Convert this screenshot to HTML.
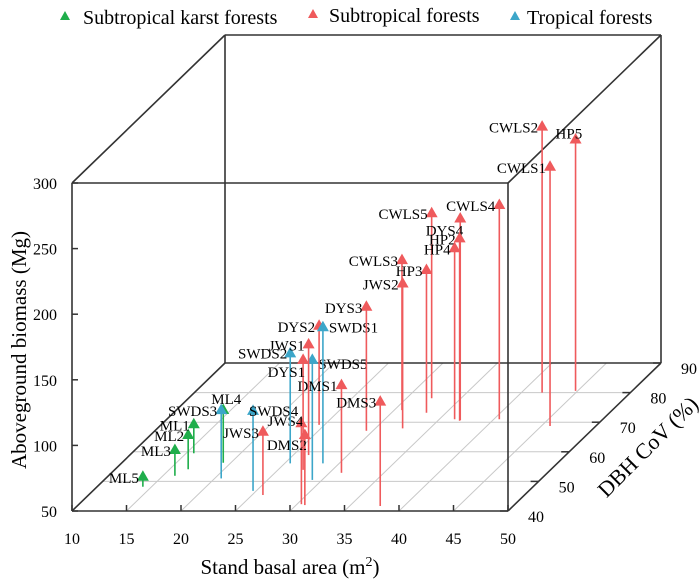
<!DOCTYPE html>
<html><head><meta charset="utf-8"><style>
html,body{margin:0;padding:0;background:#fff;}
svg{display:block;font-family:"Liberation Serif",serif;}
</style></head><body>
<svg id="chart" width="700" height="580" viewBox="0 0 700 580">
<g>
 <polygon points="60,20 65,11 70,20" fill="#1fae4b"/>
 <text x="83" y="24" font-size="20">Subtropical karst forests</text>
 <polygon points="308,18 313,9 318,18" fill="#ef5a5c"/>
 <text x="329" y="22" font-size="20">Subtropical forests</text>
 <polygon points="510,20 515,11 520,20" fill="#3ca6c9"/>
 <text x="527" y="24" font-size="20">Tropical forests</text>
</g>
<g id="axes"></g>
<g id="marks"></g>
<text x="290" y="574" font-size="21" text-anchor="middle">Stand basal area (m<tspan font-size="14" dy="-8">2</tspan><tspan dy="8">)</tspan></text>
<text transform="translate(26,350) rotate(-90)" font-size="21" text-anchor="middle">Aboveground biomass (Mg)</text>
<text transform="translate(653,452) rotate(-45)" font-size="22" text-anchor="middle">DBH CoV (%)</text>
</svg>
<script>
const names=["ML5","ML3","ML2","ML1","ML4","SWDS3","SWDS4","JWS3","JWS4","DMS2","SWDS2","SWDS5","DYS2","SWDS1","DMS1","DYS3","DMS3","JWS1","DYS1","JWS2","CWLS3","HP3","CWLS5","DYS4","HP2","HP4","CWLS4","CWLS2","CWLS1","HP5"];
const groups=["k","k","k","k","k","t","t","s","s","s","t","t","s","t","s","s","s","s","s","s","s","s","s","s","s","s","s","s","s","s"];
const basalArea=[14.2,16.1,16.7,15.7,19.3,20.6,24.7,26.0,30.4,30.8,25.5,29.1,24.5,28.5,31.1,29.4,37.8,26.4,27.3,32.5,30.7,33.2,32.3,37.0,37.0,36.4,40.5,41.9,45.8,44.8];
const dbhCov=[48.2,51.9,54.1,59.5,56.3,51.0,46.8,45.4,42.3,42.0,56.1,50.5,69.1,56.1,52.9,67.1,41.7,58.9,53.9,67.9,74.1,73.2,78.1,70.7,70.5,71.0,71.0,80.0,68.7,80.6];
const biomass=[57.6,69.6,76.1,72.1,90.2,102.1,111,98.2,111.7,103.4,133.8,141.5,125.5,153.7,116.8,144.5,129.5,134.4,133.8,160.5,164.3,158.8,191,203.7,189,180.3,213.3,252.7,247.6,241.6];
const xTicks=[10,15,20,25,30,35,40,45,50];
const yTicks=[40,50,60,70,80,90];
const zTicks=[50,100,150,200,250,300];
// label placement (style, not data)
const labelPos={SWDS1:[6,5,"start"],SWDS5:[6,9,"start"],SWDS4:[-4,5,"start"],HP5:[-20,-1,"start"],DYS4:[3,17,"end"],DYS1:[2,17,"end"],DMS2:[2,15,"end"],ML4:[-12,-6,"start"],JWS4:[2,3,"end"],SWDS2:[-3,5,"end"]};
const colors={k:"#1fae4b",s:"#ef5a5c",t:"#3ca6c9"};
const X0=72,Y0=511,SX=10.9,SZ=1.312,DX=3.06,DY=2.96;
function px(x,d){return X0+(x-10)*SX+(d-40)*DX;}
function py(z,d){return Y0-(z-50)*SZ-(d-40)*DY;}
const NS="http://www.w3.org/2000/svg";
function mk(p,t,a){const e=document.createElementNS(NS,t);for(const k in a)e.setAttribute(k,a[k]);p.appendChild(e);return e;}
const ax=document.getElementById('axes');
yTicks.slice(1,-1).forEach(d=>{const l=mk(ax,'line',{x1:px(10,d),y1:py(50,d),x2:px(50,d),y2:py(50,d),stroke:"#c8c8c8","stroke-width":1});

});
xTicks.slice(1,-1).forEach(x=>{const l=mk(ax,'line',{x1:px(x,40),y1:py(50,40),x2:px(x,90),y2:py(50,90),stroke:"#c8c8c8","stroke-width":1});

});
const box=[[10,40,50,50,40,50],[10,40,50,10,40,300],[50,40,50,50,40,300],[10,40,300,50,40,300],
[10,90,50,50,90,50],[10,90,50,10,90,300],[50,90,50,50,90,300],[10,90,300,50,90,300],
[10,40,50,10,90,50],[10,40,300,10,90,300],[50,40,300,50,90,300],[50,40,50,50,90,50]];
box.forEach(b=>{const l=mk(ax,'line',{x1:px(b[0],b[1]),y1:py(b[2],b[1]),x2:px(b[3],b[4]),y2:py(b[5],b[4]),stroke:"#333","stroke-width":1.6});

});
xTicks.forEach(x=>{const X=px(x,40),Y=py(50,40);
const l=mk(ax,'line',{x1:X,y1:Y,x2:X,y2:Y-6,stroke:"#333","stroke-width":1.5});


const t=mk(ax,'text',{x:X,y:Y+33,"font-size":16,"text-anchor":"middle"});t.textContent=x;

});
zTicks.forEach(z=>{const X=px(10,40),Y=py(z,40);
const l=mk(ax,'line',{x1:X,y1:Y,x2:X+6,y2:Y,stroke:"#333","stroke-width":1.5});


const t=mk(ax,'text',{x:X-15,y:Y+6,"font-size":16,"text-anchor":"end"});t.textContent=z;

});
yTicks.forEach(d=>{const X=px(50,d),Y=py(50,d);
const l=mk(ax,'line',{x1:X,y1:Y,x2:X-8,y2:Y,stroke:"#333","stroke-width":1.5});


const t=mk(ax,'text',{x:X+20,y:Y+11,"font-size":16,"text-anchor":"start"});t.textContent=d;

});
const mg=document.getElementById('marks');
names.forEach((n,i)=>{const c=colors[groups[i]],x=basalArea[i],d=dbhCov[i],z=biomass[i];
const X=px(x,d),Yt=py(z,d),Yb=py(50,d);
const g=mk(mg,'g',{});


mk(g,'line',{x1:X,y1:Yt,x2:X,y2:Yb,stroke:c,"stroke-width":1.6});
mk(g,'polygon',{points:`${X-6},${Yt+4} ${X},${Yt-6.5} ${X+6},${Yt+4}`,fill:c});
const p=labelPos[n]||[-4,6,"end"];
const t=mk(g,'text',{x:X+p[0],y:Yt+p[1],"font-size":15,"text-anchor":p[2]});t.textContent=n;});
</script>
</body></html>
